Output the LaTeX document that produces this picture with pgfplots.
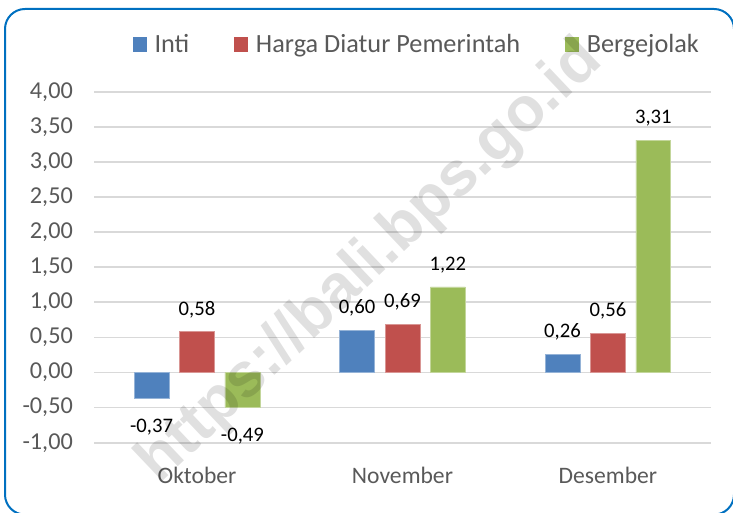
\documentclass[border=0pt]{standalone}
\usepackage{pgfplots}
\pgfplotsset{compat=1.18}
\usepackage{fontspec}
\setmainfont{Carlito}
\newfontfamily\wmfont{Liberation Sans}
\definecolor{cInti}{HTML}{4F81BD}
\definecolor{cHarga}{HTML}{C0504D}
\definecolor{cBerg}{HTML}{9BBB59}
\definecolor{frameblue}{HTML}{0070C0}
\definecolor{gridgray}{HTML}{D9D9D9}
\definecolor{ticktext}{HTML}{595959}
\begin{document}
\begin{tikzpicture}
\clip (0pt,0pt) rectangle (549.75pt,384.75pt);
\begin{axis}[
  at={(70.7pt,52.7pt)}, anchor=south west,
  scale only axis,
  width=462.3pt, height=263.25pt,
  xmin=-0.5, xmax=2.5,
  ymin=-1, ymax=4,
  ytick={-1,-0.5,0,0.5,1,1.5,2,2.5,3,3.5,4},
  xtick={0,1,2},
  xticklabels={Oktober,November,Desember},
  axis line style={draw=none},
  major tick length=0pt,
  ymajorgrids=true,
  grid style={gridgray, line width=1.3pt},
  tick label style={text=ticktext},
  yticklabel style={font=\fontsize{18.2}{18.2}\selectfont, xshift=-12.5pt},
  xticklabel style={font=\fontsize{17.7}{17.7}\selectfont, yshift=-14.6pt},
  /pgf/number format/.cd, assume math mode=true, use comma, fixed, fixed zerofill, precision=2,
  /pgfplots/.cd,
  ybar, bar width=0.170,
  nodes near coords,
  nodes near coords align={vertical},
  every node near coord/.append style={font=\fontsize{15.5}{15.5}\selectfont, text=black, inner sep=12.9pt, yshift=-2.6pt,
     /pgf/number format/.cd, assume math mode=true, use comma, fixed, fixed zerofill, precision=2},
  legend columns=3,
  legend style={draw=none, fill=none, at={(0.522,1.136)}, anchor=center,
     font=\fontsize{19.7}{19.7}\selectfont, text=ticktext,
     /tikz/every odd column/.append style={column sep=5.5pt},
     /tikz/every even column/.append style={column sep=33pt},
     nodes={inner sep=0.5pt}},
]
\addplot[fill=cInti, draw=cInti!60!white, line width=0.5pt, bar shift=-0.221,
  legend image code/.code={\fill[cInti] (0pt,-5.2pt) rectangle (10pt,5.2pt);}]
  coordinates {(0,-0.37) (1,0.60) (2,0.26)};
\addplot[fill=cHarga, draw=cHarga!60!white, line width=0.5pt, bar shift=0,
  legend image code/.code={\fill[cHarga] (0pt,-5.2pt) rectangle (10pt,5.2pt);}]
  coordinates {(0,0.58) (1,0.69) (2,0.56)};
\addplot[fill=cBerg, draw=cBerg!60!white, line width=0.5pt, bar shift=0.221,
  legend image code/.code={\fill[cBerg] (0pt,-5.2pt) rectangle (10pt,5.2pt);}]
  coordinates {(0,-0.49) (1,1.22) (2,3.31)};
\legend{Inti, Harga Diatur Pemerintah, Bergejolak}
\end{axis}
\node[rotate=43.5, text=black, opacity=0.12, font=\wmfont\bfseries\fontsize{47}{47}\selectfont] at (278pt,188pt) {https://bali.bps.go.id};
\draw[frameblue, line width=1.5pt, rounded corners=15pt] (3.75pt,-1.2pt) rectangle (550.5pt,378pt);
\end{tikzpicture}
\end{document}
